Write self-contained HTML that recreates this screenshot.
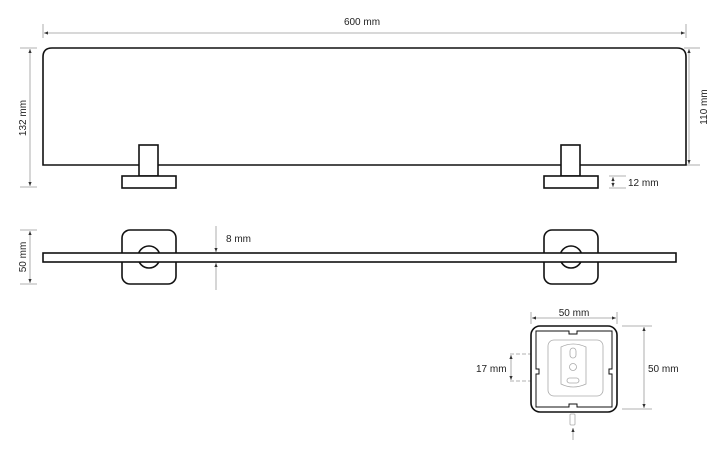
<!DOCTYPE html>
<html><head><style>body{margin:0;background:#fff}svg{display:block}text{font-family:"Liberation Sans",sans-serif;font-size:10px;fill:#222}</style></head><body>
<svg width="720" height="459" viewBox="0 0 720 459" xmlns="http://www.w3.org/2000/svg">
<defs><marker id="a" markerWidth="6" markerHeight="6" refX="5" refY="3" orient="auto-start-reverse"><path d="M0,1 L5,3 L0,5z" fill="#333"/></marker></defs>
<g stroke="#999" stroke-width="0.8" fill="none">
<line x1="43" y1="24" x2="43" y2="38"/><line x1="686" y1="24" x2="686" y2="38"/>
<line x1="44" y1="33" x2="685" y2="33" marker-start="url(#a)" marker-end="url(#a)"/>
<line x1="20" y1="48" x2="37" y2="48"/><line x1="20" y1="187" x2="37" y2="187"/>
<line x1="30" y1="49" x2="30" y2="186" marker-start="url(#a)" marker-end="url(#a)"/>
<line x1="684" y1="48" x2="700" y2="48"/><line x1="684" y1="165" x2="700" y2="165"/>
<line x1="689" y1="49" x2="689" y2="164" marker-start="url(#a)" marker-end="url(#a)"/>
<line x1="609" y1="176" x2="626" y2="176"/><line x1="609" y1="188" x2="626" y2="188"/>
<line x1="613" y1="177" x2="613" y2="187" marker-start="url(#a)" marker-end="url(#a)"/>
<line x1="20" y1="230" x2="37" y2="230"/><line x1="20" y1="284" x2="37" y2="284"/>
<line x1="30" y1="231" x2="30" y2="283" marker-start="url(#a)" marker-end="url(#a)"/>
<line x1="216" y1="226" x2="216" y2="252" marker-end="url(#a)"/>
<line x1="216" y1="290" x2="216" y2="263" marker-end="url(#a)"/>
<line x1="531" y1="312" x2="531" y2="324"/><line x1="617" y1="312" x2="617" y2="324"/>
<line x1="532" y1="318" x2="616" y2="318" marker-start="url(#a)" marker-end="url(#a)"/>
<line x1="622" y1="326" x2="652" y2="326"/><line x1="622" y1="409" x2="652" y2="409"/>
<line x1="644" y1="327" x2="644" y2="408" marker-start="url(#a)" marker-end="url(#a)"/>
<line x1="510" y1="354" x2="587" y2="354" stroke-dasharray="4,2"/>
<line x1="510" y1="381" x2="587" y2="381" stroke-dasharray="4,2"/>
<line x1="511" y1="355" x2="511" y2="380" marker-start="url(#a)" marker-end="url(#a)"/>
<line x1="573" y1="440" x2="573" y2="428" marker-end="url(#a)"/>
</g>
<g stroke="#111" stroke-width="1.6" fill="#fff">
<path d="M43,165 L43,57 Q43,48 52,48 L677,48 Q686,48 686,57 L686,165 Z"/>
<rect x="139" y="145" width="19" height="31"/><rect x="122" y="176" width="54" height="12"/>
<rect x="561" y="145" width="19" height="31"/><rect x="544" y="176" width="54" height="12"/>
<rect x="122" y="230" width="54" height="54" rx="8"/><circle cx="149" cy="257" r="11"/>
<rect x="544" y="230" width="54" height="54" rx="8"/><circle cx="571" cy="257" r="11"/>
<rect x="43" y="253" width="633" height="9"/>
<rect x="531" y="326" width="86" height="86" rx="9"/>
<path d="M536,331 h33 v3 h8 v-3 h35 v38 h-3 v5 h3 v33 h-35 v-3 h-8 v3 h-33 v-33 h3 v-5 h-3 z" stroke-width="1"/>
</g>
<g stroke="#aaa" stroke-width="0.8" fill="none">
<rect x="548" y="340" width="55" height="56" rx="6"/>
<path d="M561,347 Q573,341 586,347 L586,384 Q573,390 561,384 Z"/>
<rect x="570" y="348" width="6" height="10" rx="3"/><circle cx="573" cy="367" r="3.5"/>
<rect x="567" y="378" width="12" height="5" rx="2.5"/>
<rect x="570" y="414" width="5" height="11" rx="1"/>
</g>
<text x="362" y="25" text-anchor="middle">600 mm</text>
<text transform="translate(26,118) rotate(-90)" text-anchor="middle">132 mm</text>
<text transform="translate(707,107) rotate(-90)" text-anchor="middle">110 mm</text>
<text x="628" y="186">12 mm</text>
<text transform="translate(26,257) rotate(-90)" text-anchor="middle">50 mm</text>
<text x="226" y="242">8 mm</text>
<text x="574" y="316" text-anchor="middle">50 mm</text>
<text x="648" y="372">50 mm</text>
<text x="476" y="372">17 mm</text>
</svg>
</body></html>
